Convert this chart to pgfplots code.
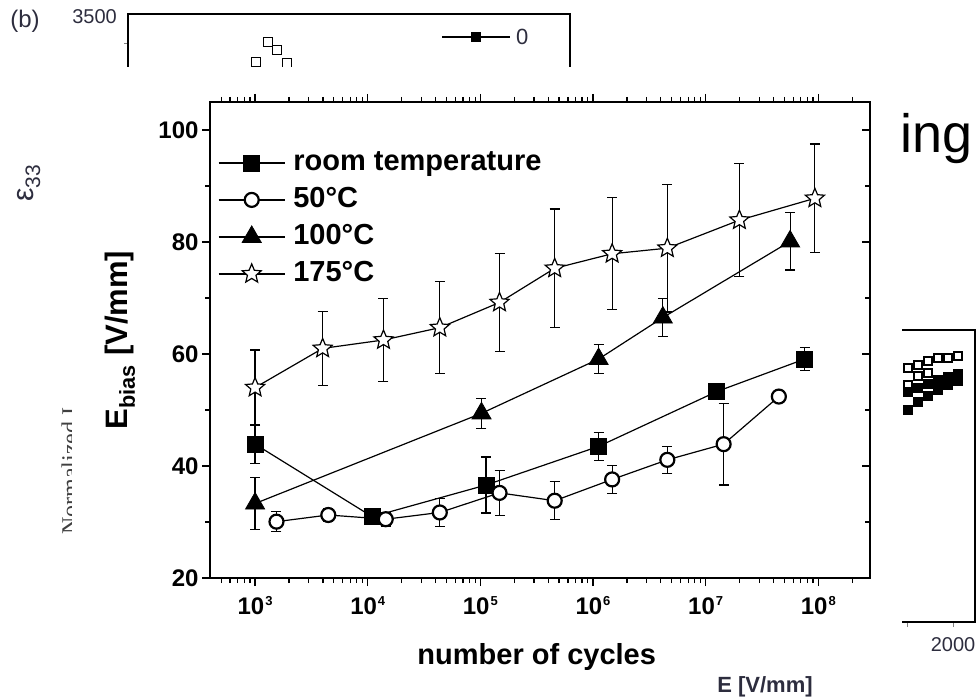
\documentclass[border=0pt]{standalone}
\usepackage{pgfplots}
\pgfplotsset{compat=1.18}
\usepackage{fontspec}
\setmainfont{Liberation Sans}
\newfontfamily\seriffont{Liberation Serif}
\usetikzlibrary{plotmarks}
\definecolor{scan}{RGB}{45,45,62}
\pgfdeclareplotmark{ostar}{%
 \pgfpathmoveto{\pgfpointpolar{90}{\pgfplotmarksize}}%
 \pgfpathlineto{\pgfpointpolar{126}{0.45\pgfplotmarksize}}%
 \pgfpathlineto{\pgfpointpolar{162}{\pgfplotmarksize}}%
 \pgfpathlineto{\pgfpointpolar{198}{0.45\pgfplotmarksize}}%
 \pgfpathlineto{\pgfpointpolar{234}{\pgfplotmarksize}}%
 \pgfpathlineto{\pgfpointpolar{270}{0.45\pgfplotmarksize}}%
 \pgfpathlineto{\pgfpointpolar{306}{\pgfplotmarksize}}%
 \pgfpathlineto{\pgfpointpolar{342}{0.45\pgfplotmarksize}}%
 \pgfpathlineto{\pgfpointpolar{18}{\pgfplotmarksize}}%
 \pgfpathlineto{\pgfpointpolar{54}{0.45\pgfplotmarksize}}%
 \pgfpathclose\pgfusepathqfillstroke}
\newcommand{\tp}[1]{10\raisebox{9pt}{\fontsize{13}{13}\selectfont\kern1pt #1}}
\begin{document}
\begin{tikzpicture}
\useasboundingbox (0,0) rectangle (980pt,699pt);
% ---- background fragment: top panel (b) ----
\begin{axis}[at={(128pt,579pt)}, anchor=south west, scale only axis,
  width=442pt, height=106pt, xmin=128, xmax=570, ymin=14, ymax=120, y dir=reverse,
  xtick=\empty, ytick={43}, yticklabels={}, ytick pos=left, tick align=outside,
  major tick length=4pt, axis line style={line width=1.1pt, black}]
 \addplot[only marks, mark=square, mark size=4.5pt, mark options={line width=1pt}] coordinates {(256,62)(268,42)(277,50)(287,63)};
 \addplot[line width=1.1pt, mark=square*, mark size=4.5pt, mark indices={2}] coordinates {(442,37)(476,37)(510,37)};
\end{axis}
\node[text=scan, font=\fontsize{24}{24}\selectfont, inner sep=0pt] at (25pt,678pt) {(b)};
\node[text=scan, font=\fontsize{20}{20}\selectfont, anchor=east, inner sep=0pt] at (117pt,682pt) {3500};
\node[text=scan, font=\fontsize{22}{22}\selectfont, anchor=west, inner sep=0pt] at (516pt,662pt) {0};
% ---- background fragment: right panel ----
\begin{axis}[at={(760pt,77pt)}, anchor=south west, scale only axis,
  width=215pt, height=292pt, xmin=760, xmax=975, ymin=330, ymax=622, y dir=reverse,
  xtick={907,953}, xticklabels={,2000}, xtick pos=left, ytick=\empty, tick align=outside,
  major tick length=5pt, axis line style={line width=1.3pt},
  xticklabel style={font=\fontsize{20}{20}\selectfont, text=scan, yshift=-7pt}]
 \addplot[only marks, mark=square, mark size=4pt, mark options={line width=1.1pt, fill=white}] coordinates {(908,368)(918,365)(928,361)(938,358)(948,358)(958,356)(918,376)(928,373)(908,385)};
 \addplot[only marks, mark=square*, mark size=4.5pt] coordinates {(908,392)(918,388)(928,384)(938,380)(948,377)(958,374)(908,410)(918,402)(928,396)(938,390)(948,385)(958,381)};
\end{axis}
\node[text=scan, font=\fontsize{22}{22}\selectfont\bfseries] at (765pt,12pt) {E [V/mm]};
\node[text=scan, font=\fontsize{30}{30}\selectfont, rotate=90] at (29pt,516pt) {ε\textsubscript{33}};
\node[text=black!75, font=\seriffont\fontsize{24}{24}\selectfont, rotate=90, anchor=base west, inner sep=0pt] at (78pt,164pt) {Normalized I};
\node[font=\fontsize{54}{54}\selectfont, anchor=base west, inner sep=0pt] at (900pt,546pt) {ing};
% ---- overlay of the main figure ----
\fill[white] (72pt,29pt) rectangle (902pt,632pt);
% ---- inward ticks on the right side of the main chart ----
\begin{axis}[at={(210pt,121pt)}, anchor=south west, scale only axis,
  width=660pt, height=476pt, xmin=0, xmax=1, ymin=20, ymax=105,
  hide x axis, axis y line*=right, ytick={20,40,60,80,100}, yticklabels={},
  minor ytick={30,50,70,90}, tick align=inside,
  major tick length=8pt, minor tick length=5pt,
  every tick/.style={black, line width=1.3pt},
  axis line style={line width=1.8pt, -}]
\end{axis}
% ---- main chart ----
\begin{axis}[at={(210pt,121pt)}, anchor=south west, scale only axis,
  width=660pt, height=476pt,
  xmode=log, xmin=398, xmax=2.88e8, ymin=20, ymax=105,
  xtick={1e3,1e4,1e5,1e6,1e7,1e8},
  xticklabels={\tp{3},\tp{4},\tp{5},\tp{6},\tp{7},\tp{8}},
  minor xtick={500,600,700,800,900,2e3,3e3,4e3,5e3,6e3,7e3,8e3,9e3,2e4,3e4,4e4,5e4,6e4,7e4,8e4,9e4,2e5,3e5,4e5,5e5,6e5,7e5,8e5,9e5,2e6,3e6,4e6,5e6,6e6,7e6,8e6,9e6,2e7,3e7,4e7,5e7,6e7,7e7,8e7,9e7,2e8},
  ytick={20,40,60,80,100}, yticklabels={20,40,60,80,100},
  minor ytick={30,50,70,90},
  tick align=outside, xtick pos=both, ytick pos=left,
  major tick length=8pt, minor tick length=5pt,
  every tick/.style={black, line width=1.3pt},
  axis line style={line width=1.8pt},
  ticklabel style={font=\fontsize{24}{28}\selectfont\bfseries},
  xticklabel style={yshift=-7pt},
  xlabel={number of cycles},
  ylabel={E\textsubscript{bias} [V/mm]},
  xlabel style={font=\fontsize{29}{33}\selectfont\bfseries, at={(axis description cs:0.495,-0.166)}, anchor=center},
  ylabel style={font=\fontsize{31}{35}\selectfont\bfseries, at={(axis description cs:-0.136,0.5)}, anchor=center},
  legend style={at={(axis description cs:0.012,0.905)}, anchor=north west, draw=none, fill=none,
    font=\fontsize{29}{33}\selectfont\bfseries, inner sep=0pt, row sep=6pt,
    nodes={inner sep=2pt, text height=21pt, text depth=6pt},
    /tikz/every odd column/.append style={column sep=6pt}},
  legend cell align=left,
  legend image code/.code={\draw[mark repeat=2,mark phase=2,#1] plot coordinates {(0pt,0pt) (33pt,0pt) (66pt,0pt)};},
  every axis plot/.append style={black, line width=1.2pt},
  error bars/y dir=both, error bars/y explicit,
  error bars/error mark options={rotate=90, mark size=5pt, line width=1.2pt},
  error bars/error bar style={line width=1.2pt},
]
\addplot[mark=square*, mark size=8pt, mark options={fill=black, line width=0.8pt}] coordinates {
 (1000,43.9) +- (0,3.5)
 (10965,30.95) +- (0,0.8)
 (112200,36.6) +- (0,5)
 (1122000,43.5) +- (0,2.5)
 (12590000,53.3) +- (0,1)
 (75860000,59.1) +- (0,2)
};
\addlegendentry{room temperature}
\addplot[mark=*, mark size=7pt, mark options={fill=white, line width=2.2pt}] coordinates {
 (1549,30.06) +- (0,1.8)
 (4467,31.25) +- (0,1.2)
 (14454,30.5) +- (0,1.2)
 (43652,31.7) +- (0,2.5)
 (147911,35.2) +- (0,4)
 (457088,33.8) +- (0,3.4)
 (1479000,37.6) +- (0,2.5)
 (4571000,41.1) +- (0,2.4)
 (14450000,43.9) +- (0,7.3)
 (44670000,52.4) +- (0,1)
};
\addlegendentry{50°C}
\addplot[mark=triangle*, mark size=11pt, mark options={fill=black, line width=0.8pt}] coordinates {
 (1000,33.3) +- (0,4.6)
 (102329,49.4) +- (0,2.7)
 (1122000,59.1) +- (0,2.6)
 (4170000,66.5) +- (0,3.4)
 (56230000,80.1) +- (0,5.1)
};
\addlegendentry{100°C}
\addplot[mark=ostar, mark size=10pt, mark options={fill=white, line width=1.2pt}] coordinates {
 (1000,54.0) +- (0,6.7)
 (3981,61.0) +- (0,6.6)
 (13804,62.5) +- (0,7.4)
 (43652,64.7) +- (0,8.2)
 (147911,69.2) +- (0,8.7)
 (457088,75.3) +- (0,10.6)
 (1479000,77.9) +- (0,10)
 (4571000,78.9) +- (0,11.4)
 (19950000,83.9) +- (0,10.1)
 (93330000,87.8) +- (0,9.7)
};
\addlegendentry{175°C}
\end{axis}
\end{tikzpicture}
\end{document}
